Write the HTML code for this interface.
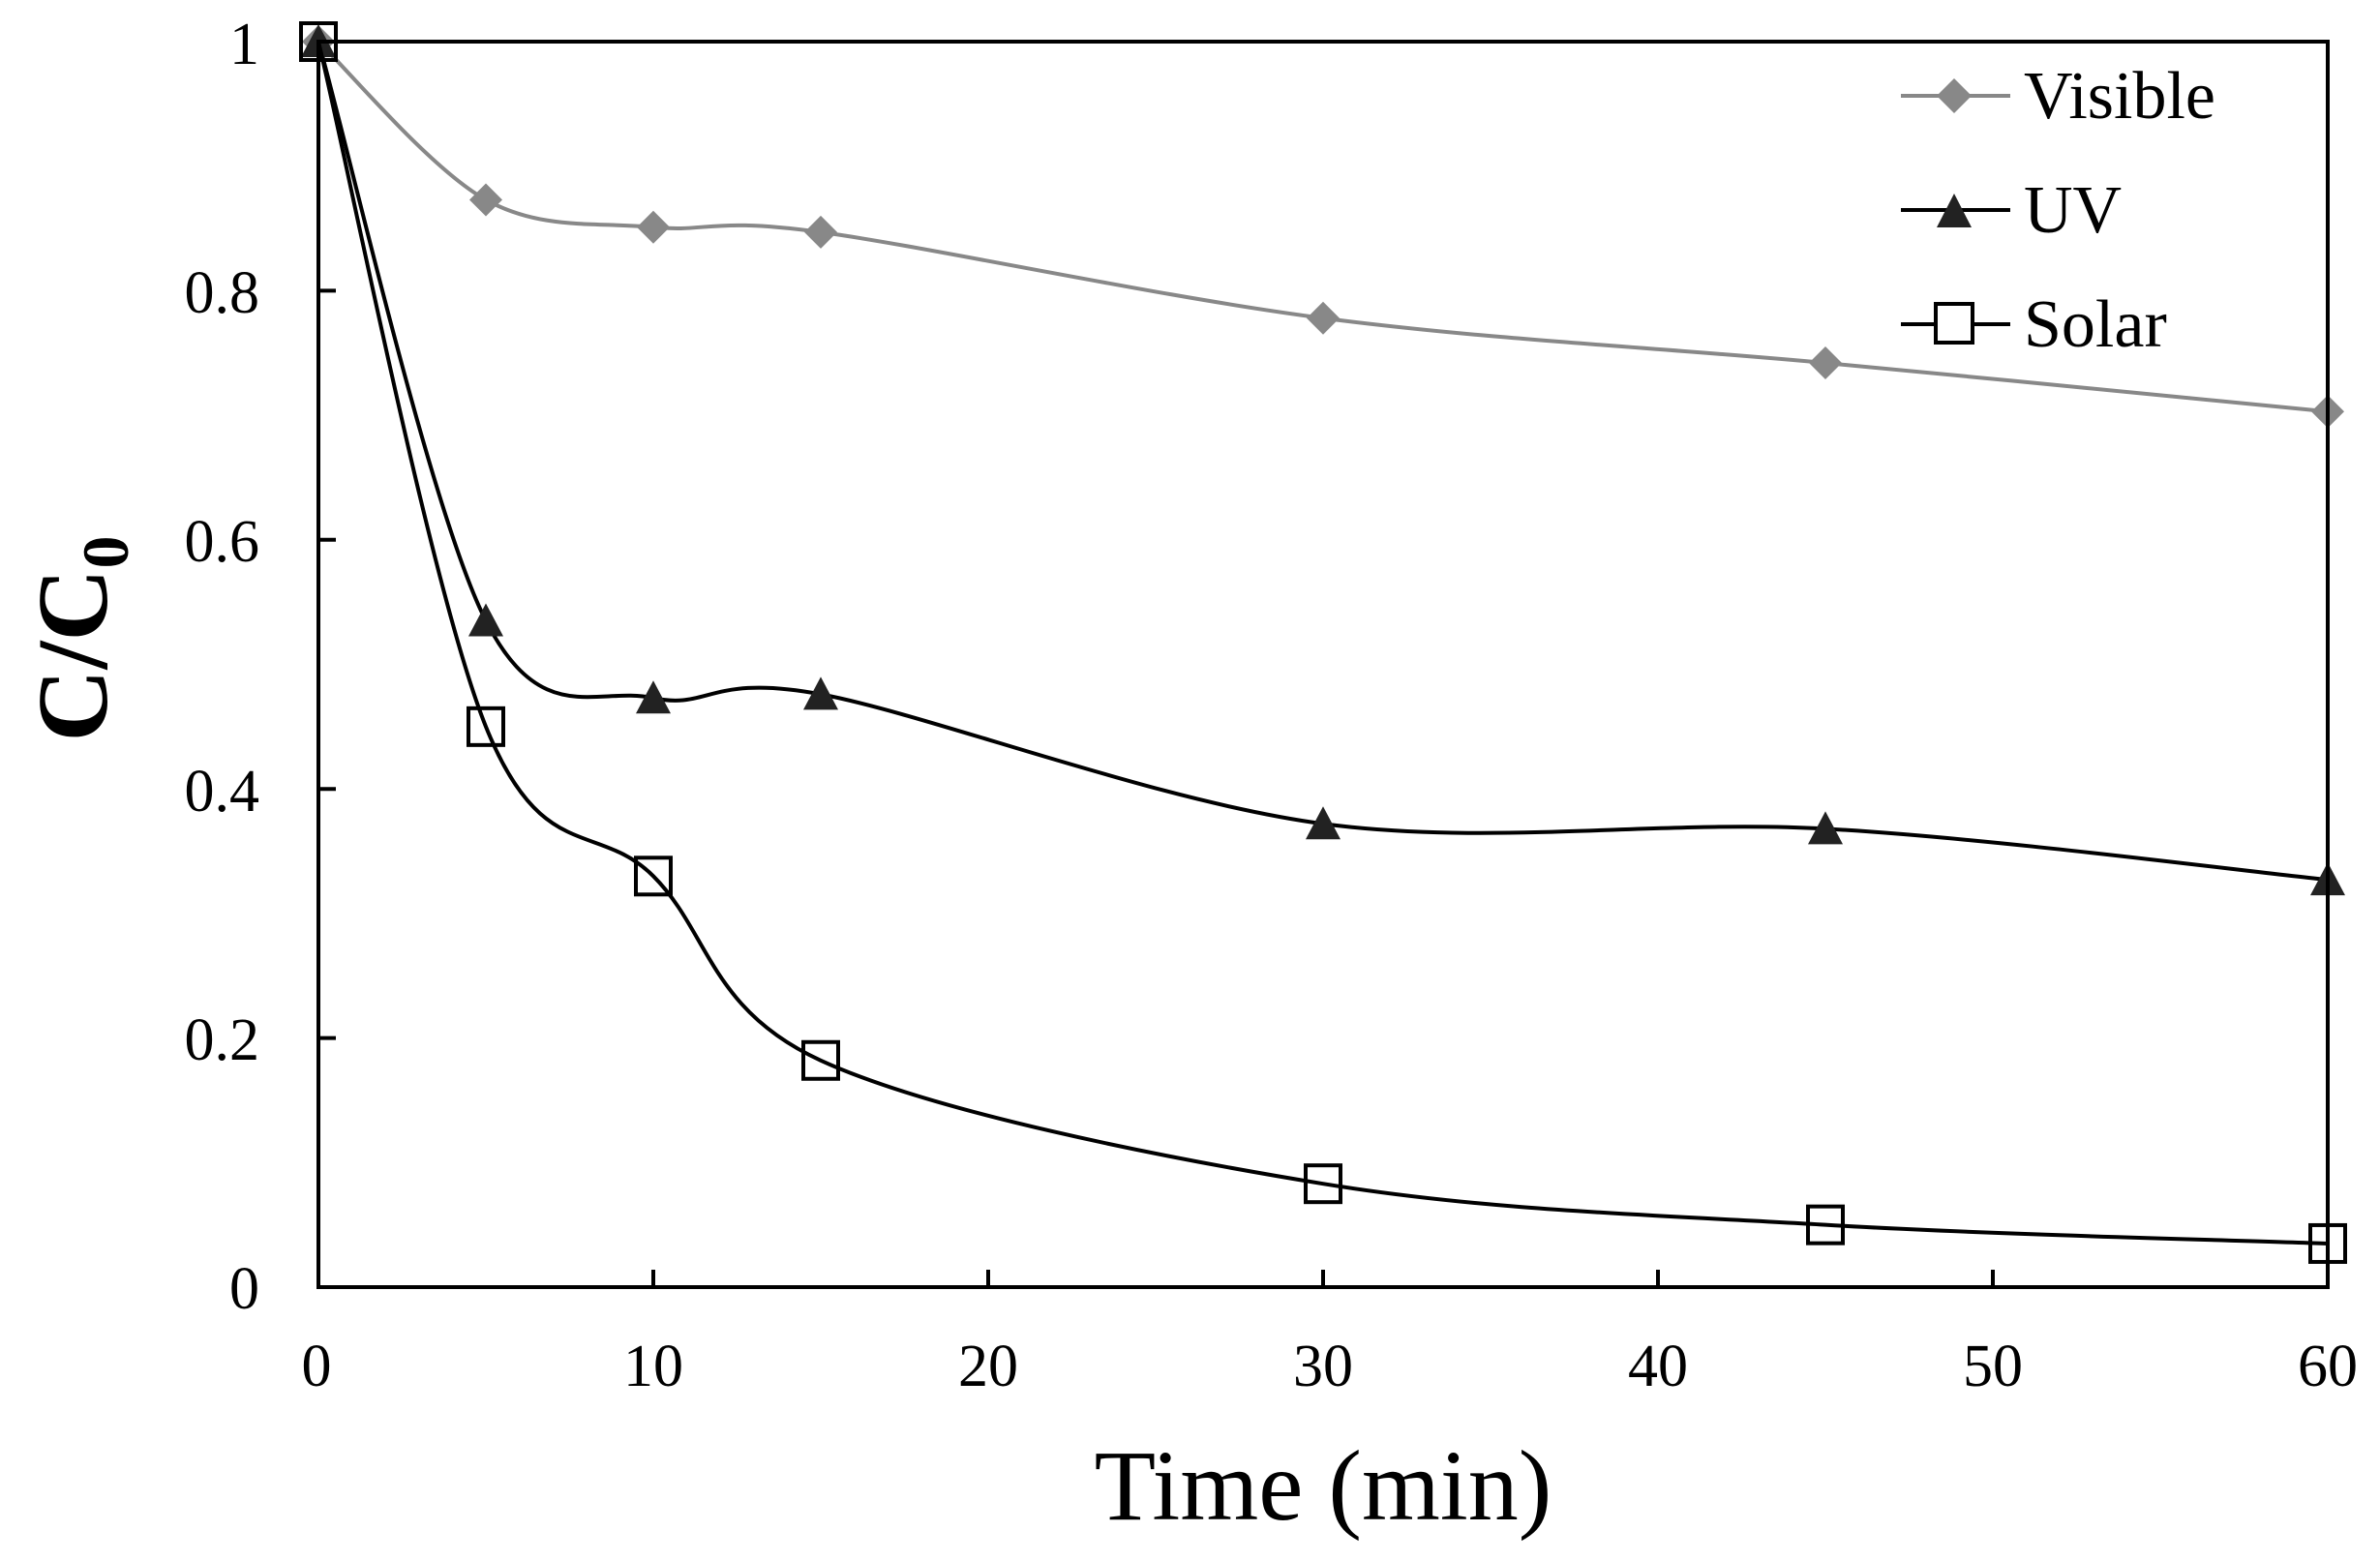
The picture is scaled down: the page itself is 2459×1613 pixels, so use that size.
<!DOCTYPE html>
<html><head><meta charset="utf-8"><style>
html,body{margin:0;padding:0;background:#fff;}
svg{display:block;font-family:"Liberation Serif",serif;}
</style></head><body>
<svg id="s" width="2459" height="1613" viewBox="0 0 2459 1613" xmlns="http://www.w3.org/2000/svg">
<rect x="0" y="0" width="2459" height="1613" fill="#fff"/>
<g id="ticks" stroke="#000" stroke-width="4"></g>
<g font-size="62" fill="#000" text-anchor="end">
<text x="268" y="1352">0</text>
<text x="268" y="1095">0.2</text>
<text x="268" y="838">0.4</text>
<text x="268" y="580">0.6</text>
<text x="268" y="323">0.8</text>
<text x="268" y="66">1</text>
</g>
<g font-size="62" fill="#000" text-anchor="middle">
<text x="327" y="1432">0</text>
<text x="675" y="1432">10</text>
<text x="1021" y="1432">20</text>
<text x="1367" y="1432">30</text>
<text x="1713" y="1432">40</text>
<text x="2059" y="1432">50</text>
<text x="2405" y="1432">60</text>
</g>
<text x="1367" y="1570" font-size="104" text-anchor="middle">Time (min)</text>
<text transform="translate(110,660) rotate(-90)" font-size="104" font-weight="bold" text-anchor="middle">C/C<tspan font-size="68" dy="22">0</tspan></text>
<g id="series"></g>
<rect x="329" y="43" width="2076" height="1287" fill="none" stroke="#000" stroke-width="4"/>
<g font-size="70" fill="#000">
<line x1="1964" y1="99" x2="2077" y2="99" stroke="#888" stroke-width="4"/>
<polygon points="2019,81 2037,99 2019,117 2001,99" fill="#888"/>
<text x="2091" y="122">Visible</text>
<line x1="1964" y1="217" x2="2077" y2="217" stroke="#000" stroke-width="4"/>
<polygon points="2019,200 2037,235 2001,235" fill="#222"/>
<text x="2091" y="240">UV</text>
<line x1="1964" y1="335" x2="2077" y2="335" stroke="#000" stroke-width="4"/>
<rect x="2000" y="314" width="38" height="40" fill="#fff" stroke="#000" stroke-width="4"/>
<text x="2091" y="358">Solar</text>
</g>
</svg>
<script>
var L=329,R=2405,T=43,B=1330;
function X(t){return L+(R-L)*t/60;}
function Y(v){return B-(B-T)*v;}
var NS="http://www.w3.org/2000/svg";
var tk=document.getElementById('ticks');
function el(n,a,p){var e=document.createElementNS(NS,n);for(var k in a)e.setAttribute(k,a[k]);p.appendChild(e);return e;}
for(var i=1;i<=5;i++){var y=Y(i*0.2);el('line',{x1:L,y1:y,x2:L+18,y2:y},tk);}
for(var i=1;i<=5;i++){var x=X(i*10);el('line',{x1:x,y1:B,x2:x,y2:B-18},tk);}
var t=[0,5,10,15,30,45,60];
var data=[
 {v:[1,0.873,0.851,0.847,0.778,0.742,0.703],c:'#888',m:'d'},
 {v:[1,0.535,0.473,0.476,0.372,0.368,0.327],c:'#000',m:'t'},
 {v:[1,0.45,0.33,0.182,0.083,0.05,0.035],c:'#000',m:'s'}
];
var g=document.getElementById('series');
data.forEach(function(s){
 var p=t.map(function(tt,i){return [X(tt),Y(s.v[i])];});
 var d='M'+p[0][0]+','+p[0][1];
 for(var i=0;i<p.length-1;i++){
  var p0=p[i-1]||p[i],p1=p[i],p2=p[i+1],p3=p[i+2]||p[i+1];
  var c1=[p1[0]+(p2[0]-p0[0])/6,p1[1]+(p2[1]-p0[1])/6];
  var c2=[p2[0]-(p3[0]-p1[0])/6,p2[1]-(p3[1]-p1[1])/6];
  d+=' C'+c1[0]+','+c1[1]+' '+c2[0]+','+c2[1]+' '+p2[0]+','+p2[1];
 }
 el('path',{d:d,fill:'none',stroke:s.c,'stroke-width':4},g);
 p.forEach(function(q){
  var x=q[0],y=q[1];
  if(s.m=='d')el('polygon',{points:(x)+','+(y-17)+' '+(x+17)+','+y+' '+x+','+(y+17)+' '+(x-17)+','+y,fill:'#888'},g);
  if(s.m=='t')el('polygon',{points:x+','+(y-18)+' '+(x+18)+','+(y+16)+' '+(x-18)+','+(y+16),fill:'#222'},g);
  if(s.m=='s')el('rect',{x:x-18,y:y-19,width:36,height:38,fill:'none',stroke:'#000','stroke-width':4},g);
 });
});
</script>
</body></html>
